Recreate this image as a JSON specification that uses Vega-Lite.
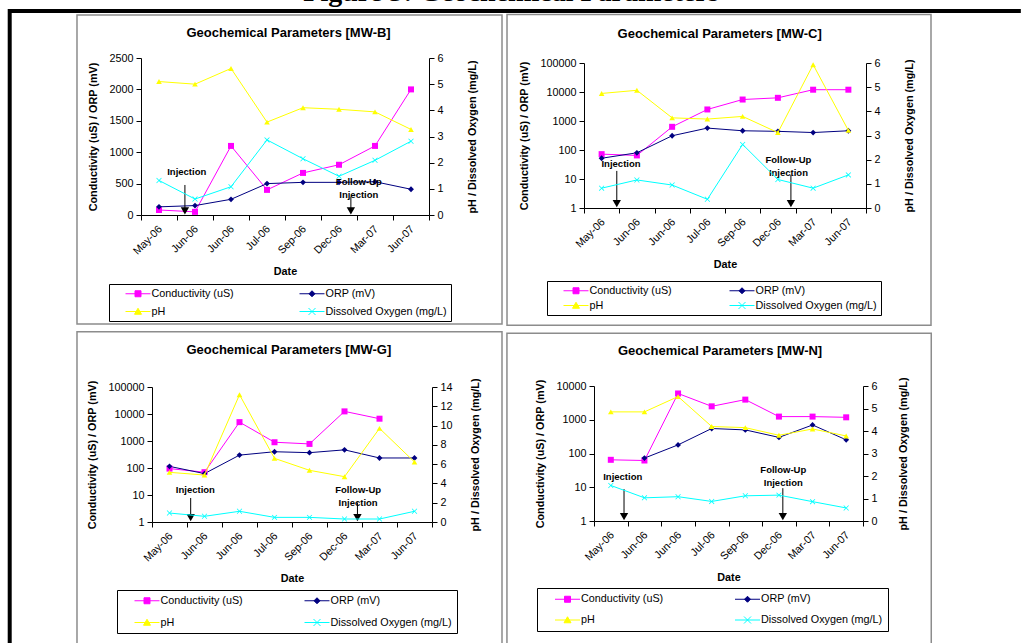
{
"$schema": "https://vega.github.io/schema/vega-lite/v6.json",
"width": 1021, "height": 643, "padding": 0, "autosize": {"type": "none"},
"background": "white",
"config": {
 "view": {"stroke": null},
 "font": "Liberation Sans",
 "axis": {"grid": false, "domainColor": "#000", "tickColor": "#000", "labelColor": "#000", "titleColor": "#000", "labelFont": "Liberation Sans", "labelFontSize": 10.8, "titleFont": "Liberation Sans", "titleFontSize": 10.8, "titleFontWeight": "bold", "tickSize": 5, "labelPadding": 3, "domainWidth": 1, "tickWidth": 1},
 "legend": {"orient": "none", "columns": 2, "strokeColor": "#000", "fillColor": "#fff", "symbolSize": 100, "symbolOffset": 19.5, "labelOffset": 8, "labelFont": "Liberation Sans", "labelFontSize": 10.8, "labelColor": "#000"}
},
"datasets": {
 "readings": [
  {"well":"MW-B","series":"Conductivity (uS)","i":0,"value":80},{"well":"MW-B","series":"Conductivity (uS)","i":1,"value":50},{"well":"MW-B","series":"Conductivity (uS)","i":2,"value":1100},{"well":"MW-B","series":"Conductivity (uS)","i":3,"value":400},{"well":"MW-B","series":"Conductivity (uS)","i":4,"value":670},{"well":"MW-B","series":"Conductivity (uS)","i":5,"value":800},{"well":"MW-B","series":"Conductivity (uS)","i":6,"value":1100},{"well":"MW-B","series":"Conductivity (uS)","i":7,"value":2000},
  {"well":"MW-B","series":"ORP (mV)","i":0,"value":130},{"well":"MW-B","series":"ORP (mV)","i":1,"value":150},{"well":"MW-B","series":"ORP (mV)","i":2,"value":250},{"well":"MW-B","series":"ORP (mV)","i":3,"value":500},{"well":"MW-B","series":"ORP (mV)","i":4,"value":520},{"well":"MW-B","series":"ORP (mV)","i":5,"value":520},{"well":"MW-B","series":"ORP (mV)","i":6,"value":530},{"well":"MW-B","series":"ORP (mV)","i":7,"value":410},
  {"well":"MW-B","series":"pH","i":0,"value":5.1},{"well":"MW-B","series":"pH","i":1,"value":5.0},{"well":"MW-B","series":"pH","i":2,"value":5.6},{"well":"MW-B","series":"pH","i":3,"value":3.55},{"well":"MW-B","series":"pH","i":4,"value":4.1},{"well":"MW-B","series":"pH","i":5,"value":4.04},{"well":"MW-B","series":"pH","i":6,"value":3.94},{"well":"MW-B","series":"pH","i":7,"value":3.27},
  {"well":"MW-B","series":"Dissolved Oxygen (mg/L)","i":0,"value":1.32},{"well":"MW-B","series":"Dissolved Oxygen (mg/L)","i":1,"value":0.61},{"well":"MW-B","series":"Dissolved Oxygen (mg/L)","i":2,"value":1.08},{"well":"MW-B","series":"Dissolved Oxygen (mg/L)","i":3,"value":2.87},{"well":"MW-B","series":"Dissolved Oxygen (mg/L)","i":4,"value":2.15},{"well":"MW-B","series":"Dissolved Oxygen (mg/L)","i":5,"value":1.48},{"well":"MW-B","series":"Dissolved Oxygen (mg/L)","i":6,"value":2.09},{"well":"MW-B","series":"Dissolved Oxygen (mg/L)","i":7,"value":2.82},
  {"well":"MW-C","series":"Conductivity (uS)","i":0,"value":72},{"well":"MW-C","series":"Conductivity (uS)","i":1,"value":65},{"well":"MW-C","series":"Conductivity (uS)","i":2,"value":630},{"well":"MW-C","series":"Conductivity (uS)","i":3,"value":2500},{"well":"MW-C","series":"Conductivity (uS)","i":4,"value":5500},{"well":"MW-C","series":"Conductivity (uS)","i":5,"value":6300},{"well":"MW-C","series":"Conductivity (uS)","i":6,"value":12000},{"well":"MW-C","series":"Conductivity (uS)","i":7,"value":12000},
  {"well":"MW-C","series":"ORP (mV)","i":0,"value":52},{"well":"MW-C","series":"ORP (mV)","i":1,"value":80},{"well":"MW-C","series":"ORP (mV)","i":2,"value":310},{"well":"MW-C","series":"ORP (mV)","i":3,"value":570},{"well":"MW-C","series":"ORP (mV)","i":4,"value":460},{"well":"MW-C","series":"ORP (mV)","i":5,"value":440},{"well":"MW-C","series":"ORP (mV)","i":6,"value":400},{"well":"MW-C","series":"ORP (mV)","i":7,"value":460},
  {"well":"MW-C","series":"pH","i":0,"value":4.74},{"well":"MW-C","series":"pH","i":1,"value":4.87},{"well":"MW-C","series":"pH","i":2,"value":3.73},{"well":"MW-C","series":"pH","i":3,"value":3.68},{"well":"MW-C","series":"pH","i":4,"value":3.79},{"well":"MW-C","series":"pH","i":5,"value":3.12},{"well":"MW-C","series":"pH","i":6,"value":5.93},{"well":"MW-C","series":"pH","i":7,"value":3.21},
  {"well":"MW-C","series":"Dissolved Oxygen (mg/L)","i":0,"value":0.82},{"well":"MW-C","series":"Dissolved Oxygen (mg/L)","i":1,"value":1.16},{"well":"MW-C","series":"Dissolved Oxygen (mg/L)","i":2,"value":0.95},{"well":"MW-C","series":"Dissolved Oxygen (mg/L)","i":3,"value":0.36},{"well":"MW-C","series":"Dissolved Oxygen (mg/L)","i":4,"value":2.63},{"well":"MW-C","series":"Dissolved Oxygen (mg/L)","i":5,"value":1.18},{"well":"MW-C","series":"Dissolved Oxygen (mg/L)","i":6,"value":0.82},{"well":"MW-C","series":"Dissolved Oxygen (mg/L)","i":7,"value":1.37},
  {"well":"MW-G","series":"Conductivity (uS)","i":0,"value":95},{"well":"MW-G","series":"Conductivity (uS)","i":1,"value":70},{"well":"MW-G","series":"Conductivity (uS)","i":2,"value":5000},{"well":"MW-G","series":"Conductivity (uS)","i":3,"value":900},{"well":"MW-G","series":"Conductivity (uS)","i":4,"value":780},{"well":"MW-G","series":"Conductivity (uS)","i":5,"value":12500},{"well":"MW-G","series":"Conductivity (uS)","i":6,"value":6700},
  {"well":"MW-G","series":"ORP (mV)","i":0,"value":115},{"well":"MW-G","series":"ORP (mV)","i":1,"value":62},{"well":"MW-G","series":"ORP (mV)","i":2,"value":300},{"well":"MW-G","series":"ORP (mV)","i":3,"value":400},{"well":"MW-G","series":"ORP (mV)","i":4,"value":370},{"well":"MW-G","series":"ORP (mV)","i":5,"value":470},{"well":"MW-G","series":"ORP (mV)","i":6,"value":235},{"well":"MW-G","series":"ORP (mV)","i":7,"value":235},
  {"well":"MW-G","series":"pH","i":0,"value":5.15},{"well":"MW-G","series":"pH","i":1,"value":4.87},{"well":"MW-G","series":"pH","i":2,"value":13.2},{"well":"MW-G","series":"pH","i":3,"value":6.6},{"well":"MW-G","series":"pH","i":4,"value":5.36},{"well":"MW-G","series":"pH","i":5,"value":4.7},{"well":"MW-G","series":"pH","i":6,"value":9.71},{"well":"MW-G","series":"pH","i":7,"value":6.22},
  {"well":"MW-G","series":"Dissolved Oxygen (mg/L)","i":0,"value":0.93},{"well":"MW-G","series":"Dissolved Oxygen (mg/L)","i":1,"value":0.59},{"well":"MW-G","series":"Dissolved Oxygen (mg/L)","i":2,"value":1.11},{"well":"MW-G","series":"Dissolved Oxygen (mg/L)","i":3,"value":0.48},{"well":"MW-G","series":"Dissolved Oxygen (mg/L)","i":4,"value":0.48},{"well":"MW-G","series":"Dissolved Oxygen (mg/L)","i":5,"value":0.31},{"well":"MW-G","series":"Dissolved Oxygen (mg/L)","i":6,"value":0.31},{"well":"MW-G","series":"Dissolved Oxygen (mg/L)","i":7,"value":1.11},
  {"well":"MW-N","series":"Conductivity (uS)","i":0,"value":65},{"well":"MW-N","series":"Conductivity (uS)","i":1,"value":62},{"well":"MW-N","series":"Conductivity (uS)","i":2,"value":6000},{"well":"MW-N","series":"Conductivity (uS)","i":3,"value":2500},{"well":"MW-N","series":"Conductivity (uS)","i":4,"value":3950},{"well":"MW-N","series":"Conductivity (uS)","i":5,"value":1240},{"well":"MW-N","series":"Conductivity (uS)","i":6,"value":1240},{"well":"MW-N","series":"Conductivity (uS)","i":7,"value":1180},
  {"well":"MW-N","series":"ORP (mV)","i":1,"value":73},{"well":"MW-N","series":"ORP (mV)","i":2,"value":180},{"well":"MW-N","series":"ORP (mV)","i":3,"value":550},{"well":"MW-N","series":"ORP (mV)","i":4,"value":500},{"well":"MW-N","series":"ORP (mV)","i":5,"value":300},{"well":"MW-N","series":"ORP (mV)","i":6,"value":700},{"well":"MW-N","series":"ORP (mV)","i":7,"value":254},
  {"well":"MW-N","series":"pH","i":0,"value":4.85},{"well":"MW-N","series":"pH","i":1,"value":4.85},{"well":"MW-N","series":"pH","i":2,"value":5.53},{"well":"MW-N","series":"pH","i":3,"value":4.2},{"well":"MW-N","series":"pH","i":4,"value":4.15},{"well":"MW-N","series":"pH","i":5,"value":3.81},{"well":"MW-N","series":"pH","i":6,"value":4.09},{"well":"MW-N","series":"pH","i":7,"value":3.78},
  {"well":"MW-N","series":"Dissolved Oxygen (mg/L)","i":0,"value":1.58},{"well":"MW-N","series":"Dissolved Oxygen (mg/L)","i":1,"value":1.03},{"well":"MW-N","series":"Dissolved Oxygen (mg/L)","i":2,"value":1.08},{"well":"MW-N","series":"Dissolved Oxygen (mg/L)","i":3,"value":0.87},{"well":"MW-N","series":"Dissolved Oxygen (mg/L)","i":4,"value":1.12},{"well":"MW-N","series":"Dissolved Oxygen (mg/L)","i":5,"value":1.15},{"well":"MW-N","series":"Dissolved Oxygen (mg/L)","i":6,"value":0.86},{"well":"MW-N","series":"Dissolved Oxygen (mg/L)","i":7,"value":0.58}
 ],
 "events": [
  {"well":"MW-B","event":"Injection","t":0.72,"top":478,"head":67,"tx":0.77,"ty":690,"label":["Injection"]},
  {"well":"MW-B","event":"Follow-Up Injection","t":5.33,"top":292,"head":64,"tx":5.55,"ty":531,"label":["Follow-Up","Injection"]},
  {"well":"MW-C","event":"Injection","t":0.43,"top":19,"head":1.41,"tx":0.55,"ty":34,"label":["Injection"]},
  {"well":"MW-C","event":"Follow-Up Injection","t":5.37,"top":13.8,"head":1.41,"tx":5.30,"ty":43.9,"label":["Follow-Up","Injection"]},
  {"well":"MW-G","event":"Injection","t":0.605,"top":7.74,"head":1.44,"tx":0.74,"ty":15.7,"label":["Injection"]},
  {"well":"MW-G","event":"Follow-Up Injection","t":5.37,"top":5.3,"head":1.44,"tx":5.39,"ty":15.5,"label":["Follow-Up","Injection"]},
  {"well":"MW-N","event":"Injection","t":0.393,"top":8.8,"head":1.34,"tx":0.354,"ty":19.5,"label":["Injection"]},
  {"well":"MW-N","event":"Follow-Up Injection","t":5.116,"top":9.4,"head":1.34,"tx":5.13,"ty":33.3,"label":["Follow-Up","Injection"]}
 ]
},
"data": {"name": "readings"},
"layer": [
 {
  "layer": [
   {
    "layer": [
     {"data": {"values": [{}]}, "mark": {"type": "rect", "filled": false, "stroke": "#8c8c8c", "strokeWidth": 1.5},
      "encoding": {"x": {"datum": -2.278, "type": "quantitative"}, "x2": {"datum": 9.528}, "y": {"datum": 3185, "type": "quantitative"}, "y2": {"datum": -1736}}},
     {"data": {"values": [{}]}, "mark": {"type": "rule", "color": "#000", "strokeWidth": 4},
      "encoding": {"x": {"datum": -4.19, "type": "quantitative"}, "x2": {"datum": 23.94}, "y": {"datum": 3248, "type": "quantitative"}}},
     {"data": {"values": [{}]}, "mark": {"type": "rule", "color": "#000", "strokeWidth": 4},
      "encoding": {"x": {"datum": -4.147, "type": "quantitative"}, "y": {"datum": 3280, "type": "quantitative"}, "y2": {"datum": -6927}}},
     {"data": {"values": [{"t": "Figure 3: Geochemical Parameters"}]}, "mark": {"type": "text", "font": "Liberation Serif", "fontSize": 28, "fontWeight": "bold", "align": "center", "baseline": "alphabetic", "color": "#000"},
      "encoding": {"x": {"datum": 9.78, "type": "quantitative"}, "y": {"datum": 3410, "type": "quantitative"}, "text": {"field": "t"}}},
     {"data": {"values": [{"t": "Geochemical Parameters [MW-B]"}]}, "mark": {"type": "text", "fontSize": 13, "fontWeight": "bold", "align": "center", "baseline": "middle", "color": "#000"},
      "encoding": {"x": {"datum": 3.6, "type": "quantitative"}, "y": {"datum": 2898, "type": "quantitative"}, "text": {"field": "t"}}},
     {"transform": [{"filter": {"field": "well", "equal": "MW-B"}}, {"filter": {"field": "series", "oneOf": ["Conductivity (uS)", "ORP (mV)"]}}],
      "mark": {"type": "line", "strokeWidth": 1},
      "encoding": {
       "x": {"field": "i", "type": "quantitative", "scale": {"domain": [-0.5, 7.5], "range": [141, 429], "nice": false, "zero": false},
             "axis": {"title": "Date", "orient": "bottom", "offset": -428, "values": [-0.5,0.5,1.5,2.5,3.5,4.5,5.5,6.5,7.5], "labelExpr": "['May-06','Jun-06','Jun-06','Jul-06','Sep-06','Dec-06','Mar-07','Jun-07',''][round(datum.value + 0.5)]", "labelAngle": -45, "labelOffset": 15, "labelFlush": false, "labelOverlap": false, "labelBound": false, "titlePadding": 9}},
       "y": {"field": "value", "type": "quantitative", "scale": {"domain": [0, 2500], "range": [215, 58], "nice": false, "zero": false},
             "axis": {"title": "Conductivity (uS) / ORP (mV)", "orient": "left", "offset": -141, "values": [0,500,1000,1500,2000,2500], "format": "d", "titlePadding": 10}},
       "color": {"field": "series", "type": "nominal", "scale": {"domain": ["Conductivity (uS)", "pH", "ORP (mV)", "Dissolved Oxygen (mg/L)"], "range": ["#ff00ff", "#ffff00", "#000080", "#00ffff"]},
             "legend": {"title": null, "legendX": 109, "legendY": 284, "padding": 4, "rowPadding": 6, "columnPadding": 53,
               "encode": {
                 "labels": {"update": {"text": {"signal": "datum.value === 'Dissolved Oxygen (mg/L)' ? datum.label + '\u00a0\u00a0\u00a0\u00a0\u00a0' : datum.label"}}},
                 "symbols": {"update": {
                 "shape": {"signal": "datum.value === 'Conductivity (uS)' ? 'M-2.5,0H2.5M-0.6,-0.6H0.6V0.6H-0.6Z' : datum.value === 'ORP (mV)' ? 'M-2.5,0H2.5M0,-0.6L0.6,0L0,0.6L-0.6,0Z' : datum.value === 'pH' ? 'M-2.5,0H2.5M0,-0.65L0.7,0.55L-0.7,0.55Z' : 'M-2.5,0H2.5M-0.7,-0.7L0.7,0.7M-0.7,0.7L0.7,-0.7'"},
                 "fill": {"signal": "datum.value === 'Conductivity (uS)' ? '#ff00ff' : datum.value === 'ORP (mV)' ? '#000080' : datum.value === 'pH' ? '#ffff00' : 'transparent'"},
                 "stroke": {"signal": "datum.value === 'Conductivity (uS)' ? '#ff00ff' : datum.value === 'ORP (mV)' ? '#000080' : datum.value === 'pH' ? '#ffff00' : '#00ffff'"},
                 "strokeWidth": {"value": 1}, "opacity": {"value": 1}, "size": {"value": 100}}}}}}
      }},
     {"transform": [{"filter": {"field": "well", "equal": "MW-B"}}, {"filter": {"field": "series", "oneOf": ["Conductivity (uS)", "ORP (mV)"]}}],
      "mark": {"type": "point", "filled": true, "opacity": 1},
      "encoding": {
       "x": {"field": "i", "type": "quantitative"},
       "y": {"field": "value", "type": "quantitative"},
       "color": {"field": "series", "type": "nominal", "legend": null},
       "shape": {"field": "series", "type": "nominal", "legend": null, "scale": {"domain": ["Conductivity (uS)", "ORP (mV)", "pH", "Dissolved Oxygen (mg/L)"], "range": ["square", "diamond", "triangle-up", "M-1,-0.8L-0.8,-1L0,-0.2L0.8,-1L1,-0.8L0.2,0L1,0.8L0.8,1L0,0.2L-0.8,1L-1,0.8L-0.2,0Z"]}},
       "size": {"field": "series", "type": "nominal", "legend": null, "scale": {"domain": ["Conductivity (uS)", "ORP (mV)", "pH", "Dissolved Oxygen (mg/L)"], "range": [36, 30, 50, 50]}}
      }},
     {"data": {"name": "events"}, "transform": [{"filter": {"field": "well", "equal": "MW-B"}}], "mark": {"type": "rule", "color": "#000", "strokeWidth": 1},
      "encoding": {"x": {"field": "t", "type": "quantitative"}, "y": {"field": "top", "type": "quantitative"}, "y2": {"field": "head"}}},
     {"data": {"name": "events"}, "transform": [{"filter": {"field": "well", "equal": "MW-B"}}], "mark": {"type": "point", "shape": "triangle-down", "filled": true, "color": "#000", "size": 70, "opacity": 1},
      "encoding": {"x": {"field": "t", "type": "quantitative"}, "y": {"field": "head", "type": "quantitative"}}},
     {"data": {"name": "events"}, "transform": [{"filter": {"field": "well", "equal": "MW-B"}}], "mark": {"type": "text", "fontSize": 9.5, "fontWeight": "bold", "align": "center", "baseline": "middle", "lineHeight": 13, "color": "#000"},
      "encoding": {"x": {"field": "tx", "type": "quantitative"}, "y": {"field": "ty", "type": "quantitative"}, "text": {"field": "label"}}}
    ]
   },
   {
    "transform": [{"filter": {"field": "well", "equal": "MW-B"}}, {"filter": {"field": "series", "oneOf": ["pH", "Dissolved Oxygen (mg/L)"]}}],
    "layer": [
     {"mark": {"type": "line", "strokeWidth": 1},
      "encoding": {
       "x": {"field": "i", "type": "quantitative"},
       "y": {"field": "value", "type": "quantitative", "scale": {"domain": [0, 6], "range": [215, 58], "nice": false, "zero": false},
             "axis": {"title": "pH / Dissolved Oxygen (mg/L)", "orient": "right", "offset": -592, "values": [0,1,2,3,4,5,6], "format": "d", "titleAngle": 270, "titleBaseline": "top", "titlePadding": 23}},
       "color": {"field": "series", "type": "nominal", "legend": null}
      }},
     {"mark": {"type": "point", "filled": true, "opacity": 1},
      "encoding": {
       "x": {"field": "i", "type": "quantitative"},
       "y": {"field": "value", "type": "quantitative"},
       "color": {"field": "series", "type": "nominal", "legend": null},
       "shape": {"field": "series", "type": "nominal", "legend": null},
       "size": {"field": "series", "type": "nominal", "legend": null}
      }}
    ]
   }
  ],
  "resolve": {"scale": {"y": "independent"}, "axis": {"y": "independent"}}
 },
 {
  "layer": [
   {
    "layer": [
     {"data": {"values": [{}]}, "mark": {"type": "rect", "filled": false, "stroke": "#8c8c8c", "strokeWidth": 1.5},
      "encoding": {"x": {"datum": -2.684, "type": "quantitative"}, "x2": {"datum": 9.344}, "y": {"datum": 4690000, "type": "quantitative"}, "y2": {"datum": 0.0000903}}},
     {"data": {"values": [{"t": "Geochemical Parameters [MW-C]"}]}, "mark": {"type": "text", "fontSize": 13, "fontWeight": "bold", "align": "center", "baseline": "middle", "color": "#000"},
      "encoding": {"x": {"datum": 3.35, "type": "quantitative"}, "y": {"datum": 1030000, "type": "quantitative"}, "text": {"field": "t"}}},
     {"transform": [{"filter": {"field": "well", "equal": "MW-C"}}, {"filter": {"field": "series", "oneOf": ["Conductivity (uS)", "ORP (mV)"]}}],
      "mark": {"type": "line", "strokeWidth": 1},
      "encoding": {
       "x": {"field": "i", "type": "quantitative", "scale": {"domain": [-0.5, 7.5], "range": [584, 866], "nice": false, "zero": false},
             "axis": {"title": "Date", "orient": "bottom", "offset": -435, "values": [-0.5,0.5,1.5,2.5,3.5,4.5,5.5,6.5,7.5], "labelExpr": "['May-06','Jun-06','Jun-06','Jul-06','Sep-06','Dec-06','Mar-07','Jun-07',''][round(datum.value + 0.5)]", "labelAngle": -45, "labelOffset": 14.6, "labelFlush": false, "labelOverlap": false, "labelBound": false, "titlePadding": 9}},
       "y": {"field": "value", "type": "quantitative", "scale": {"type": "log", "domain": [1, 100000], "range": [208, 63], "nice": false, "zero": false},
             "axis": {"title": "Conductivity (uS) / ORP (mV)", "orient": "left", "offset": -584, "values": [1,10,100,1000,10000,100000], "format": "d", "titlePadding": 10}},
       "color": {"field": "series", "type": "nominal", "scale": {"domain": ["Conductivity (uS)", "pH", "ORP (mV)", "Dissolved Oxygen (mg/L)"], "range": ["#ff00ff", "#ffff00", "#000080", "#00ffff"]},
             "legend": {"title": null, "legendX": 547, "legendY": 281, "padding": 4, "rowPadding": 3, "columnPadding": 45,
               "encode": {
                 "labels": {"update": {"text": {"signal": "datum.value === 'Dissolved Oxygen (mg/L)' ? datum.label + '\u00a0\u00a0\u00a0\u00a0' : datum.label"}}},
                 "symbols": {"update": {
                 "shape": {"signal": "datum.value === 'Conductivity (uS)' ? 'M-2.5,0H2.5M-0.6,-0.6H0.6V0.6H-0.6Z' : datum.value === 'ORP (mV)' ? 'M-2.5,0H2.5M0,-0.6L0.6,0L0,0.6L-0.6,0Z' : datum.value === 'pH' ? 'M-2.5,0H2.5M0,-0.65L0.7,0.55L-0.7,0.55Z' : 'M-2.5,0H2.5M-0.7,-0.7L0.7,0.7M-0.7,0.7L0.7,-0.7'"},
                 "fill": {"signal": "datum.value === 'Conductivity (uS)' ? '#ff00ff' : datum.value === 'ORP (mV)' ? '#000080' : datum.value === 'pH' ? '#ffff00' : 'transparent'"},
                 "stroke": {"signal": "datum.value === 'Conductivity (uS)' ? '#ff00ff' : datum.value === 'ORP (mV)' ? '#000080' : datum.value === 'pH' ? '#ffff00' : '#00ffff'"},
                 "strokeWidth": {"value": 1}, "opacity": {"value": 1}, "size": {"value": 100}}}}}}
      }},
     {"transform": [{"filter": {"field": "well", "equal": "MW-C"}}, {"filter": {"field": "series", "oneOf": ["Conductivity (uS)", "ORP (mV)"]}}],
      "mark": {"type": "point", "filled": true, "opacity": 1},
      "encoding": {
       "x": {"field": "i", "type": "quantitative"},
       "y": {"field": "value", "type": "quantitative"},
       "color": {"field": "series", "type": "nominal", "legend": null},
       "shape": {"field": "series", "type": "nominal", "legend": null, "scale": {"domain": ["Conductivity (uS)", "ORP (mV)", "pH", "Dissolved Oxygen (mg/L)"], "range": ["square", "diamond", "triangle-up", "M-1,-0.8L-0.8,-1L0,-0.2L0.8,-1L1,-0.8L0.2,0L1,0.8L0.8,1L0,0.2L-0.8,1L-1,0.8L-0.2,0Z"]}},
       "size": {"field": "series", "type": "nominal", "legend": null, "scale": {"domain": ["Conductivity (uS)", "ORP (mV)", "pH", "Dissolved Oxygen (mg/L)"], "range": [36, 30, 50, 50]}}
      }},
     {"data": {"name": "events"}, "transform": [{"filter": {"field": "well", "equal": "MW-C"}}], "mark": {"type": "rule", "color": "#000", "strokeWidth": 1},
      "encoding": {"x": {"field": "t", "type": "quantitative"}, "y": {"field": "top", "type": "quantitative"}, "y2": {"field": "head"}}},
     {"data": {"name": "events"}, "transform": [{"filter": {"field": "well", "equal": "MW-C"}}], "mark": {"type": "point", "shape": "triangle-down", "filled": true, "color": "#000", "size": 70, "opacity": 1},
      "encoding": {"x": {"field": "t", "type": "quantitative"}, "y": {"field": "head", "type": "quantitative"}}},
     {"data": {"name": "events"}, "transform": [{"filter": {"field": "well", "equal": "MW-C"}}], "mark": {"type": "text", "fontSize": 9.5, "fontWeight": "bold", "align": "center", "baseline": "middle", "lineHeight": 13, "color": "#000"},
      "encoding": {"x": {"field": "tx", "type": "quantitative"}, "y": {"field": "ty", "type": "quantitative"}, "text": {"field": "label"}}}
    ]
   },
   {
    "transform": [{"filter": {"field": "well", "equal": "MW-C"}}, {"filter": {"field": "series", "oneOf": ["pH", "Dissolved Oxygen (mg/L)"]}}],
    "layer": [
     {"mark": {"type": "line", "strokeWidth": 1},
      "encoding": {
       "x": {"field": "i", "type": "quantitative"},
       "y": {"field": "value", "type": "quantitative", "scale": {"domain": [0, 6], "range": [208, 63], "nice": false, "zero": false},
             "axis": {"title": "pH / Dissolved Oxygen (mg/L)", "orient": "right", "offset": -155, "values": [0,1,2,3,4,5,6], "format": "d", "titleAngle": 270, "titleBaseline": "top", "titlePadding": 23}},
       "color": {"field": "series", "type": "nominal", "legend": null}
      }},
     {"mark": {"type": "point", "filled": true, "opacity": 1},
      "encoding": {
       "x": {"field": "i", "type": "quantitative"},
       "y": {"field": "value", "type": "quantitative"},
       "color": {"field": "series", "type": "nominal", "legend": null},
       "shape": {"field": "series", "type": "nominal", "legend": null},
       "size": {"field": "series", "type": "nominal", "legend": null}
      }}
    ]
   }
  ],
  "resolve": {"scale": {"y": "independent"}, "axis": {"y": "independent"}}
 },
 {
  "layer": [
   {
    "layer": [
     {"data": {"values": [{}]}, "mark": {"type": "rect", "filled": false, "stroke": "#8c8c8c", "strokeWidth": 1.5},
      "encoding": {"x": {"datum": -2.643, "type": "quantitative"}, "x2": {"datum": 9.5}, "y": {"datum": 11170000, "type": "quantitative"}, "y2": {"datum": 0.0000186}}},
     {"data": {"values": [{"t": "Geochemical Parameters [MW-G]"}]}, "mark": {"type": "text", "fontSize": 13, "fontWeight": "bold", "align": "center", "baseline": "middle", "color": "#000"},
      "encoding": {"x": {"datum": 3.41, "type": "quantitative"}, "y": {"datum": 2270000, "type": "quantitative"}, "text": {"field": "t"}}},
     {"transform": [{"filter": {"field": "well", "equal": "MW-G"}}, {"filter": {"field": "series", "oneOf": ["Conductivity (uS)", "ORP (mV)"]}}],
      "mark": {"type": "line", "strokeWidth": 1},
      "encoding": {
       "x": {"field": "i", "type": "quantitative", "scale": {"domain": [-0.5, 7.5], "range": [152, 432], "nice": false, "zero": false},
             "axis": {"title": "Date", "orient": "bottom", "offset": -121, "values": [-0.5,0.5,1.5,2.5,3.5,4.5,5.5,6.5,7.5], "labelExpr": "['May-06','Jun-06','Jun-06','Jul-06','Sep-06','Dec-06','Mar-07','Jun-07',''][round(datum.value + 0.5)]", "labelAngle": -45, "labelOffset": 14.5, "labelFlush": false, "labelOverlap": false, "labelBound": false, "titlePadding": 9}},
       "y": {"field": "value", "type": "quantitative", "scale": {"type": "log", "domain": [1, 100000], "range": [522, 387], "nice": false, "zero": false},
             "axis": {"title": "Conductivity (uS) / ORP (mV)", "orient": "left", "offset": -152, "values": [1,10,100,1000,10000,100000], "format": "d", "titlePadding": 10}},
       "color": {"field": "series", "type": "nominal", "scale": {"domain": ["Conductivity (uS)", "pH", "ORP (mV)", "Dissolved Oxygen (mg/L)"], "range": ["#ff00ff", "#ffff00", "#000080", "#00ffff"]},
             "legend": {"title": null, "legendX": 117, "legendY": 590, "padding": 5, "rowPadding": 10, "columnPadding": 49,
               "encode": {
                 "labels": {"update": {"text": {"signal": "datum.value === 'Dissolved Oxygen (mg/L)' ? datum.label + '\u00a0\u00a0\u00a0\u00a0' : datum.label"}}},
                 "symbols": {"update": {
                 "shape": {"signal": "datum.value === 'Conductivity (uS)' ? 'M-2.5,0H2.5M-0.6,-0.6H0.6V0.6H-0.6Z' : datum.value === 'ORP (mV)' ? 'M-2.5,0H2.5M0,-0.6L0.6,0L0,0.6L-0.6,0Z' : datum.value === 'pH' ? 'M-2.5,0H2.5M0,-0.65L0.7,0.55L-0.7,0.55Z' : 'M-2.5,0H2.5M-0.7,-0.7L0.7,0.7M-0.7,0.7L0.7,-0.7'"},
                 "fill": {"signal": "datum.value === 'Conductivity (uS)' ? '#ff00ff' : datum.value === 'ORP (mV)' ? '#000080' : datum.value === 'pH' ? '#ffff00' : 'transparent'"},
                 "stroke": {"signal": "datum.value === 'Conductivity (uS)' ? '#ff00ff' : datum.value === 'ORP (mV)' ? '#000080' : datum.value === 'pH' ? '#ffff00' : '#00ffff'"},
                 "strokeWidth": {"value": 1}, "opacity": {"value": 1}, "size": {"value": 100}}}}}}
      }},
     {"transform": [{"filter": {"field": "well", "equal": "MW-G"}}, {"filter": {"field": "series", "oneOf": ["Conductivity (uS)", "ORP (mV)"]}}],
      "mark": {"type": "point", "filled": true, "opacity": 1},
      "encoding": {
       "x": {"field": "i", "type": "quantitative"},
       "y": {"field": "value", "type": "quantitative"},
       "color": {"field": "series", "type": "nominal", "legend": null},
       "shape": {"field": "series", "type": "nominal", "legend": null, "scale": {"domain": ["Conductivity (uS)", "ORP (mV)", "pH", "Dissolved Oxygen (mg/L)"], "range": ["square", "diamond", "triangle-up", "M-1,-0.8L-0.8,-1L0,-0.2L0.8,-1L1,-0.8L0.2,0L1,0.8L0.8,1L0,0.2L-0.8,1L-1,0.8L-0.2,0Z"]}},
       "size": {"field": "series", "type": "nominal", "legend": null, "scale": {"domain": ["Conductivity (uS)", "ORP (mV)", "pH", "Dissolved Oxygen (mg/L)"], "range": [36, 30, 50, 50]}}
      }},
     {"data": {"name": "events"}, "transform": [{"filter": {"field": "well", "equal": "MW-G"}}], "mark": {"type": "rule", "color": "#000", "strokeWidth": 1},
      "encoding": {"x": {"field": "t", "type": "quantitative"}, "y": {"field": "top", "type": "quantitative"}, "y2": {"field": "head"}}},
     {"data": {"name": "events"}, "transform": [{"filter": {"field": "well", "equal": "MW-G"}}], "mark": {"type": "point", "shape": "triangle-down", "filled": true, "color": "#000", "size": 70, "opacity": 1},
      "encoding": {"x": {"field": "t", "type": "quantitative"}, "y": {"field": "head", "type": "quantitative"}}},
     {"data": {"name": "events"}, "transform": [{"filter": {"field": "well", "equal": "MW-G"}}], "mark": {"type": "text", "fontSize": 9.5, "fontWeight": "bold", "align": "center", "baseline": "middle", "lineHeight": 13, "color": "#000"},
      "encoding": {"x": {"field": "tx", "type": "quantitative"}, "y": {"field": "ty", "type": "quantitative"}, "text": {"field": "label"}}}
    ]
   },
   {
    "transform": [{"filter": {"field": "well", "equal": "MW-G"}}, {"filter": {"field": "series", "oneOf": ["pH", "Dissolved Oxygen (mg/L)"]}}],
    "layer": [
     {"mark": {"type": "line", "strokeWidth": 1},
      "encoding": {
       "x": {"field": "i", "type": "quantitative"},
       "y": {"field": "value", "type": "quantitative", "scale": {"domain": [0, 14], "range": [522, 387], "nice": false, "zero": false},
             "axis": {"title": "pH / Dissolved Oxygen (mg/L)", "orient": "right", "offset": -589, "values": [0,2,4,6,8,10,12,14], "format": "d", "titleAngle": 270, "titleBaseline": "top", "titlePadding": 17}},
       "color": {"field": "series", "type": "nominal", "legend": null}
      }},
     {"mark": {"type": "point", "filled": true, "opacity": 1},
      "encoding": {
       "x": {"field": "i", "type": "quantitative"},
       "y": {"field": "value", "type": "quantitative"},
       "color": {"field": "series", "type": "nominal", "legend": null},
       "shape": {"field": "series", "type": "nominal", "legend": null},
       "size": {"field": "series", "type": "nominal", "legend": null}
      }}
    ]
   }
  ],
  "resolve": {"scale": {"y": "independent"}, "axis": {"y": "independent"}}
 },
 {
  "layer": [
   {
    "layer": [
     {"data": {"values": [{}]}, "mark": {"type": "rect", "filled": false, "stroke": "#8c8c8c", "strokeWidth": 1.5},
      "encoding": {"x": {"datum": -3.089, "type": "quantitative"}, "x2": {"datum": 9.53}, "y": {"datum": 368000, "type": "quantitative"}, "y2": {"datum": 0.000157}}},
     {"data": {"values": [{"t": "Geochemical Parameters [MW-N]"}]}, "mark": {"type": "text", "fontSize": 13, "fontWeight": "bold", "align": "center", "baseline": "middle", "color": "#000"},
      "encoding": {"x": {"datum": 3.25, "type": "quantitative"}, "y": {"datum": 110000, "type": "quantitative"}, "text": {"field": "t"}}},
     {"transform": [{"filter": {"field": "well", "equal": "MW-N"}}, {"filter": {"field": "series", "oneOf": ["Conductivity (uS)", "ORP (mV)"]}}],
      "mark": {"type": "line", "strokeWidth": 1},
      "encoding": {
       "x": {"field": "i", "type": "quantitative", "scale": {"domain": [-0.5, 7.5], "range": [594, 863], "nice": false, "zero": false},
             "axis": {"title": "Date", "orient": "bottom", "offset": -122, "values": [-0.5,0.5,1.5,2.5,3.5,4.5,5.5,6.5,7.5], "labelExpr": "['May-06','Jun-06','Jun-06','Jul-06','Sep-06','Dec-06','Mar-07','Jun-07',''][round(datum.value + 0.5)]", "labelAngle": -45, "labelOffset": 13.8, "labelFlush": false, "labelOverlap": false, "labelBound": false, "titlePadding": 9}},
       "y": {"field": "value", "type": "quantitative", "scale": {"type": "log", "domain": [1, 10000], "range": [521, 386], "nice": false, "zero": false},
             "axis": {"title": "Conductivity (uS) / ORP (mV)", "orient": "left", "offset": -594, "values": [1,10,100,1000,10000], "format": "d", "titlePadding": 10}},
       "color": {"field": "series", "type": "nominal", "scale": {"domain": ["Conductivity (uS)", "pH", "ORP (mV)", "Dissolved Oxygen (mg/L)"], "range": ["#ff00ff", "#ffff00", "#000080", "#00ffff"]},
             "legend": {"title": null, "legendX": 537, "legendY": 588, "padding": 5.5, "rowPadding": 9, "columnPadding": 59,
               "encode": {
                 "labels": {"update": {"text": {"signal": "datum.value === 'Dissolved Oxygen (mg/L)' ? datum.label + '\u00a0\u00a0' : datum.label"}}},
                 "symbols": {"update": {
                 "shape": {"signal": "datum.value === 'Conductivity (uS)' ? 'M-2.5,0H2.5M-0.6,-0.6H0.6V0.6H-0.6Z' : datum.value === 'ORP (mV)' ? 'M-2.5,0H2.5M0,-0.6L0.6,0L0,0.6L-0.6,0Z' : datum.value === 'pH' ? 'M-2.5,0H2.5M0,-0.65L0.7,0.55L-0.7,0.55Z' : 'M-2.5,0H2.5M-0.7,-0.7L0.7,0.7M-0.7,0.7L0.7,-0.7'"},
                 "fill": {"signal": "datum.value === 'Conductivity (uS)' ? '#ff00ff' : datum.value === 'ORP (mV)' ? '#000080' : datum.value === 'pH' ? '#ffff00' : 'transparent'"},
                 "stroke": {"signal": "datum.value === 'Conductivity (uS)' ? '#ff00ff' : datum.value === 'ORP (mV)' ? '#000080' : datum.value === 'pH' ? '#ffff00' : '#00ffff'"},
                 "strokeWidth": {"value": 1}, "opacity": {"value": 1}, "size": {"value": 100}}}}}}
      }},
     {"transform": [{"filter": {"field": "well", "equal": "MW-N"}}, {"filter": {"field": "series", "oneOf": ["Conductivity (uS)", "ORP (mV)"]}}],
      "mark": {"type": "point", "filled": true, "opacity": 1},
      "encoding": {
       "x": {"field": "i", "type": "quantitative"},
       "y": {"field": "value", "type": "quantitative"},
       "color": {"field": "series", "type": "nominal", "legend": null},
       "shape": {"field": "series", "type": "nominal", "legend": null, "scale": {"domain": ["Conductivity (uS)", "ORP (mV)", "pH", "Dissolved Oxygen (mg/L)"], "range": ["square", "diamond", "triangle-up", "M-1,-0.8L-0.8,-1L0,-0.2L0.8,-1L1,-0.8L0.2,0L1,0.8L0.8,1L0,0.2L-0.8,1L-1,0.8L-0.2,0Z"]}},
       "size": {"field": "series", "type": "nominal", "legend": null, "scale": {"domain": ["Conductivity (uS)", "ORP (mV)", "pH", "Dissolved Oxygen (mg/L)"], "range": [36, 30, 50, 50]}}
      }},
     {"data": {"name": "events"}, "transform": [{"filter": {"field": "well", "equal": "MW-N"}}], "mark": {"type": "rule", "color": "#000", "strokeWidth": 1},
      "encoding": {"x": {"field": "t", "type": "quantitative"}, "y": {"field": "top", "type": "quantitative"}, "y2": {"field": "head"}}},
     {"data": {"name": "events"}, "transform": [{"filter": {"field": "well", "equal": "MW-N"}}], "mark": {"type": "point", "shape": "triangle-down", "filled": true, "color": "#000", "size": 70, "opacity": 1},
      "encoding": {"x": {"field": "t", "type": "quantitative"}, "y": {"field": "head", "type": "quantitative"}}},
     {"data": {"name": "events"}, "transform": [{"filter": {"field": "well", "equal": "MW-N"}}], "mark": {"type": "text", "fontSize": 9.5, "fontWeight": "bold", "align": "center", "baseline": "middle", "lineHeight": 13, "color": "#000"},
      "encoding": {"x": {"field": "tx", "type": "quantitative"}, "y": {"field": "ty", "type": "quantitative"}, "text": {"field": "label"}}}
    ]
   },
   {
    "transform": [{"filter": {"field": "well", "equal": "MW-N"}}, {"filter": {"field": "series", "oneOf": ["pH", "Dissolved Oxygen (mg/L)"]}}],
    "layer": [
     {"mark": {"type": "line", "strokeWidth": 1},
      "encoding": {
       "x": {"field": "i", "type": "quantitative"},
       "y": {"field": "value", "type": "quantitative", "scale": {"domain": [0, 6], "range": [521, 386], "nice": false, "zero": false},
             "axis": {"title": "pH / Dissolved Oxygen (mg/L)", "orient": "right", "offset": -158, "values": [0,1,2,3,4,5,6], "format": "d", "titleAngle": 270, "titleBaseline": "top", "titlePadding": 20}},
       "color": {"field": "series", "type": "nominal", "legend": null}
      }},
     {"mark": {"type": "point", "filled": true, "opacity": 1},
      "encoding": {
       "x": {"field": "i", "type": "quantitative"},
       "y": {"field": "value", "type": "quantitative"},
       "color": {"field": "series", "type": "nominal", "legend": null},
       "shape": {"field": "series", "type": "nominal", "legend": null},
       "size": {"field": "series", "type": "nominal", "legend": null}
      }}
    ]
   }
  ],
  "resolve": {"scale": {"y": "independent"}, "axis": {"y": "independent"}}
 }
],
"resolve": {"scale": {"x": "independent", "y": "independent", "color": "independent", "shape": "independent", "size": "independent"}, "axis": {"x": "independent", "y": "independent"}, "legend": {"color": "independent"}}
}
